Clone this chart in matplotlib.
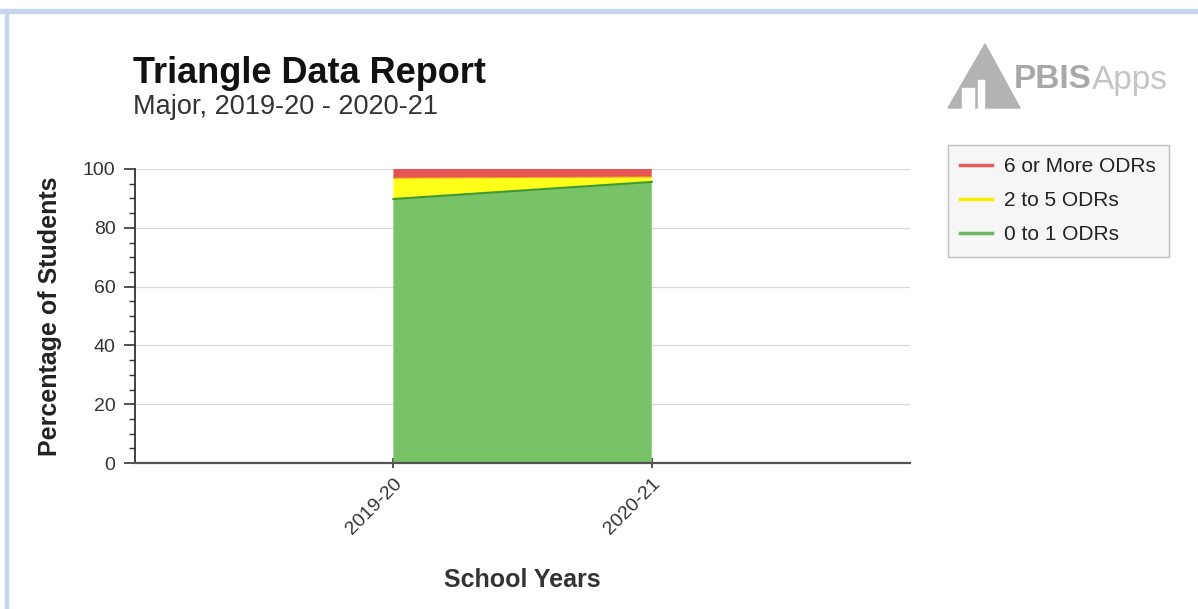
import matplotlib
matplotlib.use("Agg")
import matplotlib.pyplot as plt
import numpy as np
from matplotlib.lines import Line2D
from matplotlib.patches import Polygon, Rectangle

plt.rcParams['font.family'] = ['Liberation Sans', 'DejaVu Sans']

years = ["2019-20", "2020-21"]
odr_0_1 = [89.8, 95.6]
odr_2_5 = [7.1, 1.7]
odr_6_plus = [3.1, 2.7]

series_labels = ["6 or More ODRs", "2 to 5 ODRs", "0 to 1 ODRs"]
fill_colors = ["#e65353", "#ffff1a", "#78c267"]
legend_colors = ["#e06060", "#f5f000", "#6db865"]

fig = plt.figure(figsize=(11.98, 6.09), dpi=100)

# page frame
fig.patches.append(Rectangle((0, 0.978), 1, 0.008, transform=fig.transFigure,
                             color="#c6d8ee", zorder=0))
fig.patches.append(Rectangle((0.004, 0), 0.003, 0.986, transform=fig.transFigure,
                             color="#c6d8ee", zorder=0))

ax = fig.add_axes([0.1127, 0.2397, 0.647, 0.4828])
x = np.arange(len(years))
ax.stackplot(x, odr_0_1, odr_2_5, odr_6_plus,
             colors=[fill_colors[2], fill_colors[1], fill_colors[0]], zorder=2)
cum1 = np.array(odr_0_1)
cum2 = cum1 + np.array(odr_2_5)
ax.plot(x, cum1, color="#3f9a35", lw=1.5, zorder=3)
ax.plot(x, cum2, color="#f0a030", lw=0.8, zorder=3)

ax.set_xlim(-1, 2)
ax.set_ylim(0, 100)
ax.set_yticks([0, 20, 40, 60, 80, 100])
ax.set_yticks(np.arange(0, 101, 5), minor=True)
ax.grid(axis="y", color="#d9d9d9", lw=0.9, zorder=0)
ax.set_axisbelow(True)
ax.set_xticks(x)
ax.set_xticklabels(years, rotation=45, ha="right", rotation_mode="anchor")
ax.tick_params(axis="both", colors="#333333", labelsize=14)
ax.tick_params(axis="y", which="major", length=8, width=1.2, color="#333333", pad=6)
ax.tick_params(axis="y", which="minor", length=4, width=1, color="#333333")
ax.tick_params(axis="x", length=7, width=1.2, color="#333333", direction="inout", pad=5)
for s in ["top", "right"]:
    ax.spines[s].set_visible(False)
ax.spines["left"].set_color("#333333")
ax.spines["left"].set_linewidth(1.3)
ax.spines["bottom"].set_color("#555555")
ax.spines["bottom"].set_linewidth(1.6)

ax.set_ylabel("Percentage of Students", fontsize=18, fontweight="bold",
              color="#222222", labelpad=15)
ax.set_xlabel("School Years", fontsize=18, fontweight="bold",
              color="#333333", labelpad=22)

fig.text(0.111, 0.879, "Triangle Data Report", fontsize=26, fontweight="bold",
         color="#111111", va="center")
fig.text(0.111, 0.825, "Major, 2019-20 - 2020-21", fontsize=19.5,
         color="#333333", va="center")

# legend
handles = [Line2D([0], [0], color=c, lw=2.5) for c in legend_colors]
leg = fig.legend(handles, series_labels, loc="upper left",
                 bbox_to_anchor=(0.7913, 0.762), borderaxespad=0,
                 frameon=True, fontsize=15,
                 handlelength=1.5, handletextpad=0.6, labelspacing=0.72,
                 borderpad=0.6, fancybox=False)
leg.get_frame().set_facecolor("#f4f4f4")
leg.get_frame().set_edgecolor("#b0b0b0")
leg.get_frame().set_linewidth(1.0)
for t in leg.get_texts():
    t.set_color("#222222")

# logo
W, H = 1198, 609
def fx(px):
    return px / W
def fy(py):
    return 1 - py / H
tri = Polygon([(fx(948), fy(108)), (fx(985), fy(44)), (fx(1020), fy(108))],
              closed=True, transform=fig.transFigure, color="#b3b3b3", zorder=1)
fig.patches.append(tri)
fig.patches.append(Rectangle((fx(962), fy(108)), fx(12) - fx(0), fy(88) - fy(108),
                             transform=fig.transFigure, color="white", zorder=2))
fig.patches.append(Rectangle((fx(978), fy(108)), fx(6) - fx(0), fy(80) - fy(108),
                             transform=fig.transFigure, color="white", zorder=2))
pbis = fig.text(fx(1014), fy(80), "PBIS", fontsize=24, fontweight="bold",
                color="#a8a8a8", va="center")
fig.canvas.draw()
bb = pbis.get_window_extent()
fig.text(bb.x1 / W, fy(80), "Apps", fontsize=24, color="#c4c4c4", va="center")

fig.savefig("out.png", dpi=100, facecolor="white")
